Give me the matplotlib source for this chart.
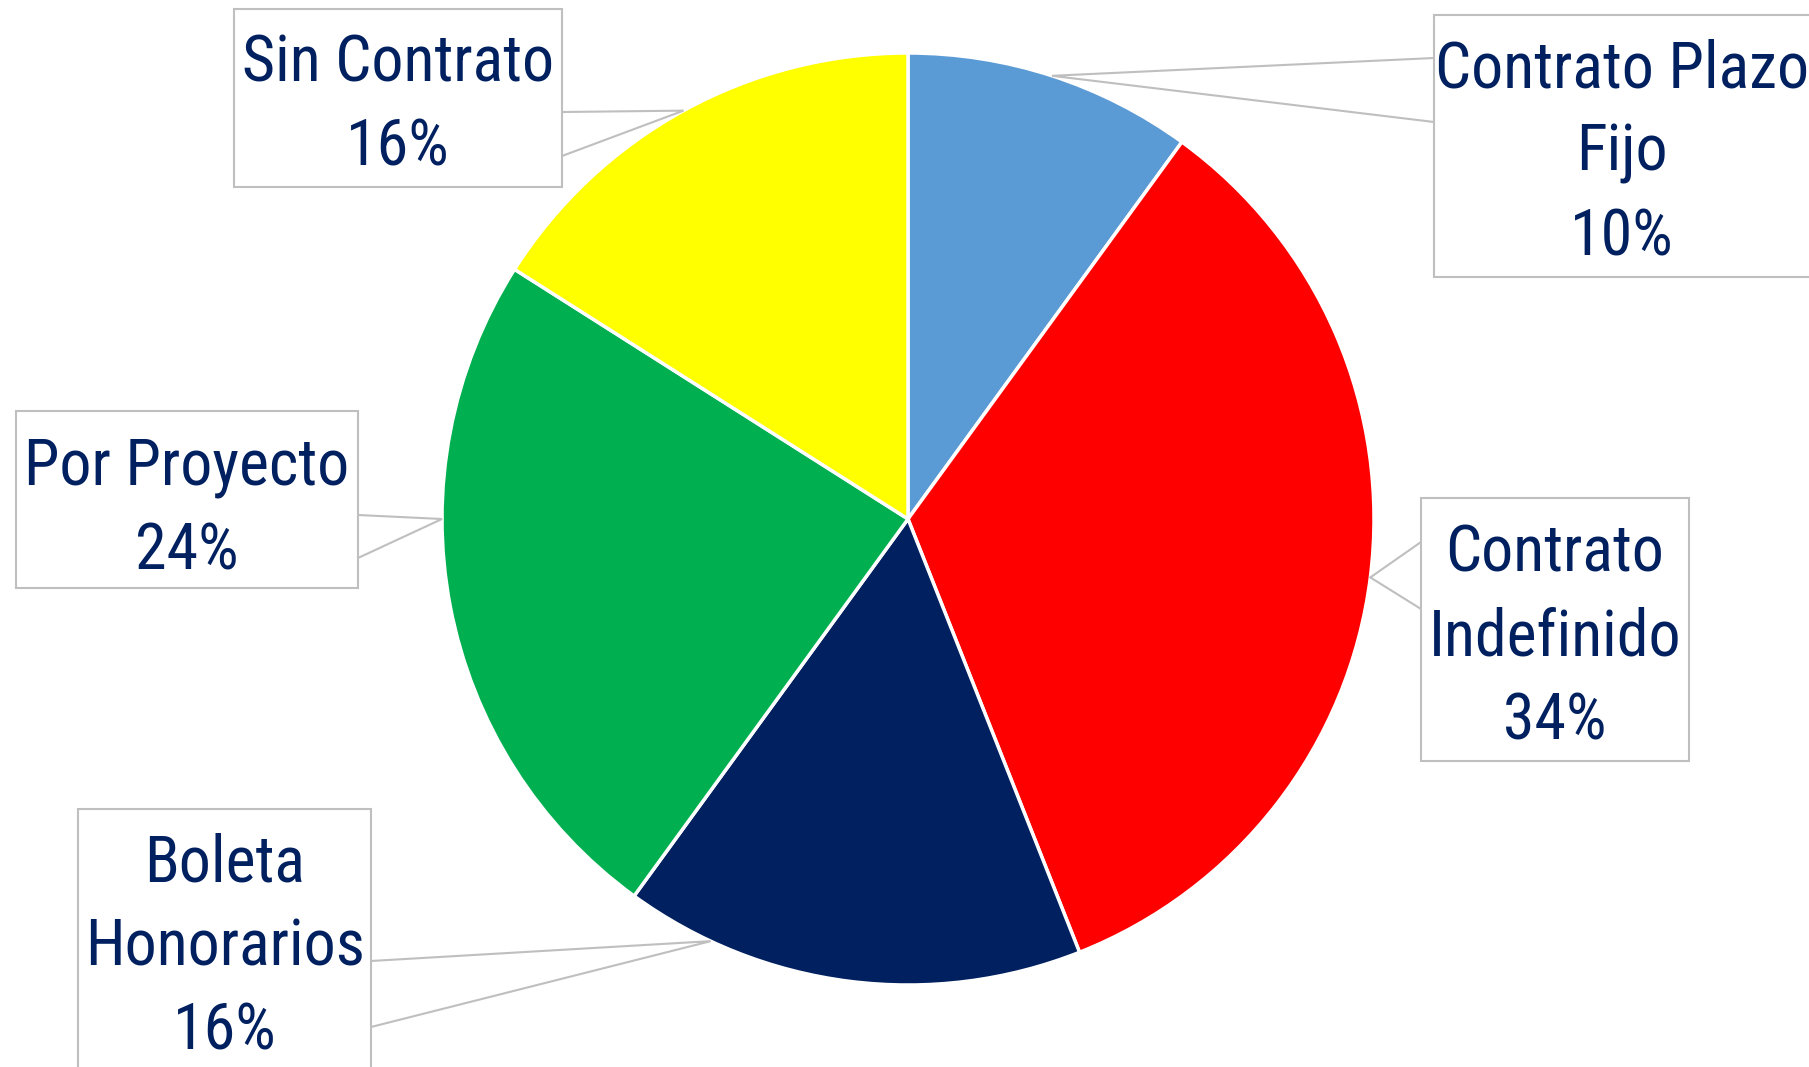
import matplotlib
matplotlib.use('Agg')
import matplotlib.pyplot as plt
from matplotlib.patches import Rectangle
import numpy as np

plt.rcParams['font.family'] = ['Roboto Condensed', 'Liberation Sans Narrow', 'Roboto', 'DejaVu Sans']

labels = ['Contrato Plazo Fijo', 'Contrato Indefinido', 'Boleta Honorarios', 'Por Proyecto', 'Sin Contrato']
label_lines = [['Contrato Plazo', 'Fijo'], ['Contrato', 'Indefinido'], ['Boleta', 'Honorarios'],
               ['Por Proyecto'], ['Sin Contrato']]
values = [10, 34, 16, 24, 16]
colors = ['#5B9BD5', '#FF0000', '#002060', '#00B050', '#FFFF00']

W, H = 1809, 1067
text_color = '#002060'
line_color = '#BFBFBF'

# label layout in pixels from the top-left corner
boxes = [(1434, 15, 1830, 277), (1421, 498, 1689, 761), (78, 809, 371, 1090),
         (16, 411, 358, 588), (234, 9, 562, 187)]
text_x = [1622, 1555, 225, 187, 398]
first_base = [87, 571, 881, 485, 82]
line_step = 84
attach_x = [1434, 1421, 371, 358, 562]
attach_y = [(58, 122), (542, 609), (961, 1027), (515, 558), (112, 156)]
anchor_frac = [0.5, 0.5, 0.81, 0.625, 0.5]

cx, cy, r = 908, H - 519, 466

fig = plt.figure(figsize=(W / 100, H / 100), dpi=100)
ax = fig.add_axes([0, 0, 1, 1])
ax.pie(values, colors=colors, startangle=90, counterclock=False, center=(cx, cy), radius=r,
       wedgeprops=dict(edgecolor='white', linewidth=2.5))
ax.set_xlim(0, W)
ax.set_ylim(0, H)
ax.set_aspect('equal')
ax.axis('off')

total = float(sum(values))
start = 0.0
for i, v in enumerate(values):
    a = np.deg2rad(360 * (start + anchor_frac[i] * v) / total)
    start += v
    px, py = cx + r * np.sin(a), cy + r * np.cos(a)
    ax.plot([attach_x[i], px, attach_x[i]], [H - attach_y[i][0], py, H - attach_y[i][1]],
            color=line_color, lw=1.5, zorder=3, solid_joinstyle='miter')
    x0, y0, x1, y1 = boxes[i]
    ax.add_patch(Rectangle((x0, H - y1), x1 - x0, y1 - y0, facecolor='white',
                           edgecolor=line_color, lw=1.5, zorder=4))
    pct = '%d%%' % round(100 * v / total)
    for j, s in enumerate(label_lines[i] + [pct]):
        ax.text(text_x[i], H - (first_base[i] + j * line_step), s, ha='center', va='baseline',
                fontsize=46, color=text_color, zorder=5)

fig.savefig('out.png', dpi=100)
